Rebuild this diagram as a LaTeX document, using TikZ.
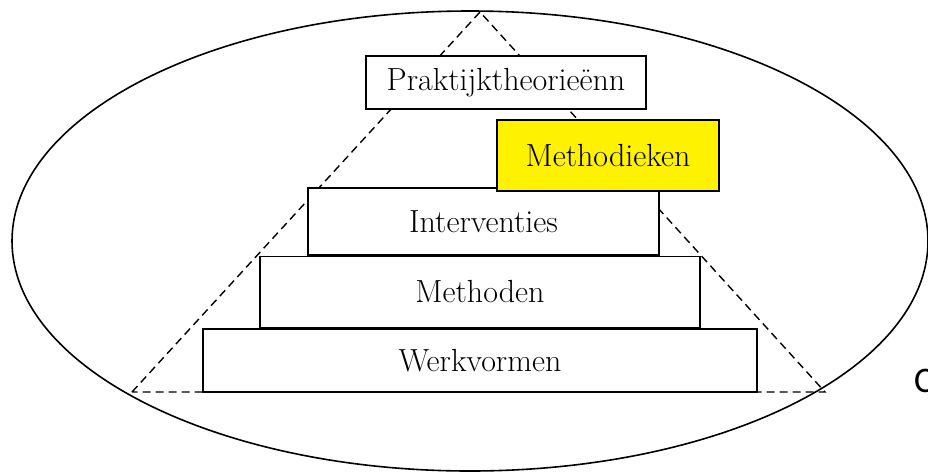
\documentclass[tikz,border=0pt]{standalone}
\usepackage{fontspec}
\newfontfamily\calibrifont{Carlito}
\usetikzlibrary{positioning}
\tikzset{
  level/.style={draw, line width=1.5pt, fill=white, inner sep=2pt, font=\fontsize{32}{38}\selectfont},
  scope line/.style={line width=1.6pt},
  guide/.style={dashed, line width=1.4pt, dash pattern=on 8pt off 5pt}
}

\begin{document}
\begin{tikzpicture}[x=1pt,y=-1pt]
\useasboundingbox (0,0) rectangle (928,472);
% outer ellipse
\draw[scope line] (470,241) ellipse [x radius=458, y radius=230];
% dashed triangle behind the steps
\coordinate (apex) at (480,12);
\coordinate (baseL) at (132,392);
\coordinate (baseR) at (825,392);
\draw[guide] (baseL) -- (apex) -- (baseR) -- cycle;
% steps
\node[level, minimum width=554, minimum height=63] (werk) at (480,360.5) {Werkvormen};
\node[level, minimum width=440, minimum height=71, above=0pt of werk] (meth) {Methoden};
\node[level, minimum width=351, minimum height=67, above=0pt of meth, xshift=3.5pt] (interv) {Interventies};
\node[level, fill=yellow, minimum width=222, minimum height=71] (methk) at (608,155.5) {Methodieken};
\node[level, minimum width=280, minimum height=53] (prakt) at (506,82.5) {Praktijktheorieënn};
% cut-off label
\node[anchor=base west, inner sep=0pt, font=\calibrifont\fontsize{36}{40}\selectfont] (cut) at (914,392) {C};
\end{tikzpicture}
\end{document}
